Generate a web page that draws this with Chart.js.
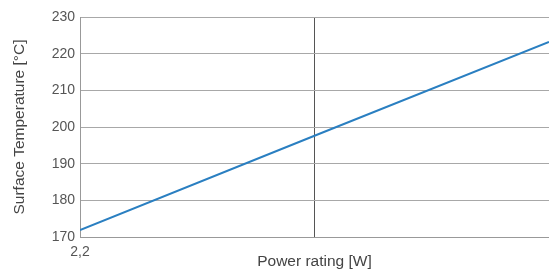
<!DOCTYPE html>
<html>
<head>
<meta charset="utf-8">
<script src="https://cdn.jsdelivr.net/npm/chart.js@4/dist/chart.umd.min.js"></script>
<style>
  html, body { margin: 0; padding: 0; background: #fff; }
  #wrap { width: 549px; height: 271px; position: relative; }
</style>
</head>
<body>
<div id="wrap"><canvas id="chart"></canvas></div>
<script>
// power rating [W] vs surface temperature [°C]
const powerW = [2.2, 2.5, 2.8];
const surfaceTemp = [171.9, 197.6, 223.2];
const yTicks = [170, 180, 190, 200, 210, 220, 230];
const xTicks = [2.2, 2.5, 2.8];
const xLabels = ['2,2', '', ''];

const ctx = document.getElementById('chart').getContext('2d');

new Chart(ctx, {
    type: 'line',
    data: {
        datasets: [{
            label: 'Surface temperature',
            data: powerW.map((x, i) => ({ x: x, y: surfaceTemp[i] })),
            borderColor: '#2a7fc1',
            borderWidth: 2,
            pointRadius: 0,
            tension: 0
        }]
    },
    options: {
        responsive: true,
        maintainAspectRatio: false,
        animation: false,
        layout: { padding: { top: 17, right: 0, left: 0, bottom: 0 } },
        plugins: {
            legend: { display: false },
            tooltip: { enabled: false }
        },
        scales: {
            x: {
                type: 'linear',
                min: 2.2,
                max: 2.8,
                afterBuildTicks: function(scale) {
                    scale.ticks = xTicks.map(v => ({ value: v }));
                },
                afterFit: function(scale) {
                    scale.height = 34;
                    scale.paddingLeft = 0;
                    scale.paddingRight = 0;
                },
                grid: {
                    color: function(c) { return c.index === 1 ? '#555' : '#aaa'; },
                    drawTicks: false
                },
                border: { color: '#999' },
                ticks: {
                    padding: 7,
                    color: '#555',
                    font: { family: 'Liberation Sans', size: 14 },
                    callback: function(v, i) { return xLabels[i]; }
                },
                title: {
                    display: true,
                    text: 'Power rating [W]',
                    color: '#444',
                    font: { family: 'Liberation Sans', size: 15.5 },
                    padding: { top: 0, bottom: 0 }
                }
            },
            y: {
                min: 170,
                max: 230,
                afterBuildTicks: function(scale) {
                    scale.ticks = yTicks.map(v => ({ value: v }));
                },
                afterFit: function(scale) {
                    scale.width = 80;
                    scale.paddingTop = 0;
                    scale.paddingBottom = 0;
                },
                grid: { color: '#a8a8a8', drawTicks: false },
                border: { color: '#999' },
                ticks: {
                    padding: 5,
                    color: '#555',
                    font: { family: 'Liberation Sans', size: 14 }
                },
                title: {
                    display: true,
                    text: 'Surface Temperature [°C]',
                    color: '#444',
                    font: { family: 'Liberation Sans', size: 15.5 },
                    padding: { top: 10, bottom: 0 }
                }
            }
        }
    }
});
</script>
</body>
</html>
